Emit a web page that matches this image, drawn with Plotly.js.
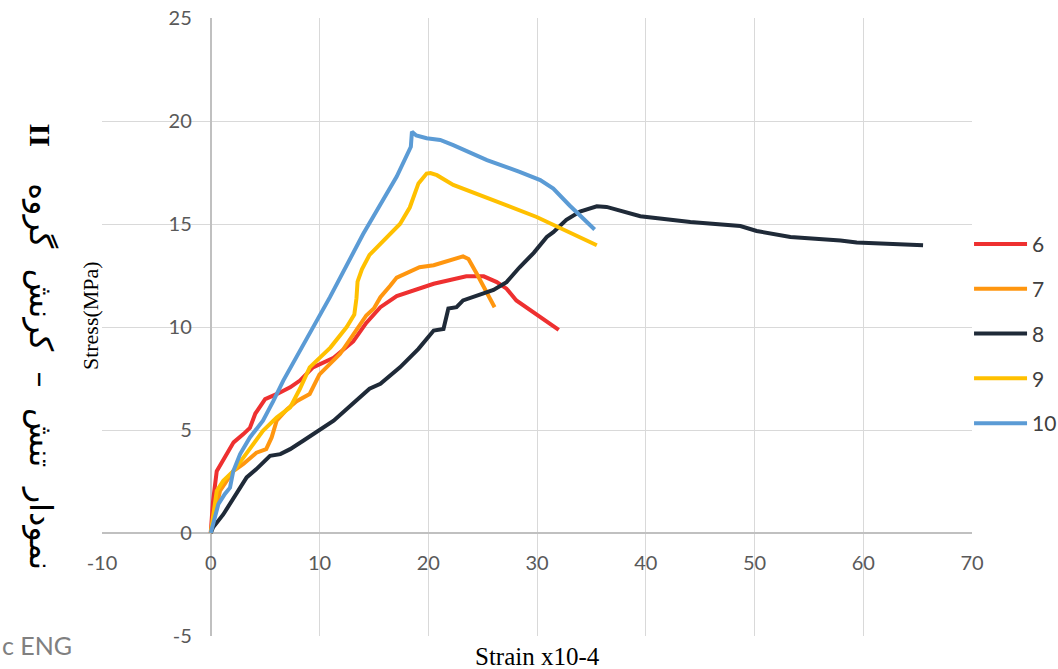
<!DOCTYPE html>
<html>
<head>
<meta charset="utf-8">
<script src="https://cdn.plot.ly/plotly-3.0.1.min.js"></script>
<style>html,body{margin:0;padding:0;background:#fff;}#chart{width:1058px;height:669px;}</style>
</head>
<body>
<div id="chart"></div>
<script>
// Series names
const seriesNames = ['6', '7', '8', '9', '10'];
const seriesColors = ['#ee3030', '#ff960f', '#1f2a38', '#ffc000', '#5b9bd5'];

// Series 6
const s6x = [0, 0.2, 0.55, 1.0, 1.5, 2.1, 3.0, 3.6, 4.1, 5.0, 6.1, 7.3, 8.2, 9.4, 11.3, 13.1, 14.3, 15.6, 17.1, 19.2, 20.5, 23.5, 25.1, 26.3, 27.2, 28.1, 29.7, 32.0];
const s6y = [0, 1.5, 3.0, 3.4, 3.9, 4.4, 4.8, 5.1, 5.8, 6.5, 6.75, 7.07, 7.4, 8.04, 8.5, 9.3, 10.2, 10.96, 11.5, 11.86, 12.1, 12.46, 12.46, 12.18, 11.86, 11.29, 10.7, 9.86];

// Series 7
const s7x = [0, 0.85, 2.07, 3.0, 4.2, 5.1, 5.6, 6.06, 7.0, 7.9, 9.1, 10.0, 11.9, 13.1, 14.3, 15.0, 15.6, 16.5, 17.1, 19.2, 20.5, 23.2, 23.7, 24.45, 25.4, 26.1];
const s7y = [0, 2.04, 3.0, 3.35, 3.9, 4.07, 4.64, 5.45, 6.0, 6.4, 6.75, 7.7, 8.7, 9.67, 10.56, 10.9, 11.45, 12.0, 12.4, 12.9, 13.0, 13.43, 13.3, 12.6, 11.7, 10.96];

// Series 8
const s8x = [0, 0.2, 1.15, 2.07, 3.3, 4.2, 5.45, 6.4, 7.3, 8.5, 10.05, 11.3, 14.6, 15.6, 17.4, 19.1, 20.5, 21.4, 21.85, 22.6, 23.2, 24.45, 26.0, 27.2, 28.4, 29.7, 30.9, 31.5, 32.7, 33.95, 35.5, 36.4, 37.9, 39.5, 44.1, 48.7, 50.2, 53.3, 57.9, 59.4, 65.5];
const s8y = [0, 0.26, 0.9, 1.7, 2.7, 3.1, 3.75, 3.83, 4.07, 4.48, 5.0, 5.45, 7.0, 7.24, 8.04, 8.94, 9.83, 9.9, 10.9, 10.96, 11.29, 11.53, 11.8, 12.18, 12.9, 13.6, 14.37, 14.6, 15.2, 15.6, 15.86, 15.83, 15.6, 15.38, 15.1, 14.9, 14.66, 14.37, 14.2, 14.1, 13.97];

// Series 9
const s9x = [0, 0.55, 1.15, 2.07, 3.0, 3.9, 4.8, 6.06, 7.3, 8.2, 9.1, 11.0, 12.5, 13.2, 13.4, 13.5, 13.9, 14.6, 16.2, 17.4, 18.3, 19.1, 19.85, 20.2, 20.8, 22.3, 29.97, 35.5];
const s9y = [0, 2.04, 2.53, 3.0, 3.66, 4.3, 4.96, 5.6, 6.1, 7.0, 8.04, 9.0, 10.0, 10.6, 11.4, 12.2, 12.8, 13.5, 14.37, 15.0, 15.8, 16.97, 17.45, 17.47, 17.37, 16.9, 15.34, 13.97];

// Series 10
const s10x = [0, 0.4, 0.7, 1.3, 1.77, 2.07, 2.7, 3.6, 4.8, 5.75, 6.67, 10.96, 14.0, 17.1, 18.3, 18.4, 18.5, 18.9, 19.85, 21.1, 22.3, 25.4, 28.4, 30.3, 31.5, 33.0, 35.3];
const s10y = [0, 0.74, 1.4, 1.9, 2.2, 3.0, 3.83, 4.64, 5.45, 6.4, 7.4, 11.45, 14.5, 17.3, 18.6, 18.75, 19.48, 19.3, 19.16, 19.08, 18.83, 18.1, 17.53, 17.13, 16.72, 15.9, 14.73];

const xs = [s6x, s7x, s8x, s9x, s10x];
const ys = [s6y, s7y, s8y, s9y, s10y];

// Axis ticks
const xTicks = [-10, 0, 10, 20, 30, 40, 50, 60, 70];
const xTickText = ['-10', '0', '10', '20', '30', '40', '50', '60', '70'];
const yTicks = [-5, 0, 5, 10, 15, 20, 25];
const yTickText = ['-5', '0', '5', '10', '15', '20', '25'];

const traces = seriesNames.map((n, i) => ({
  type: 'scatter', mode: 'lines', name: n, x: xs[i], y: ys[i],
  legendgroup: 'g' + i,
  line: {color: seriesColors[i], width: 4}
}));

const tickFont = {family: 'Lato, Open Sans, sans-serif', size: 20, color: '#595959'};

const layout = {
  width: 1058, height: 669,
  margin: {l: 102, r: 86, t: 18, b: 33, autoexpand: false},
  paper_bgcolor: '#ffffff', plot_bgcolor: '#ffffff',
  showlegend: true,
  legend: {x: 0.9966, xanchor: 'left', y: 0.667, yanchor: 'top', bgcolor: 'rgba(0,0,0,0)',
    font: {family: 'Lato, Open Sans, sans-serif', size: 21, color: '#404040'},
    tracegroupgap: 14.5, itemwidth: 53},
  xaxis: {range: [-10, 70], tickvals: xTicks, ticktext: xTickText, showgrid: true, gridcolor: '#d9d9d9', gridwidth: 1.3,
    zeroline: true, zerolinecolor: '#c0c0c0', zerolinewidth: 1.5, showline: false,
    anchor: 'free', position: 1/6, ticks: 'outside', ticklen: 12, tickcolor: 'rgba(0,0,0,0)',
    tickfont: tickFont},
  yaxis: {range: [-5, 25], tickvals: yTicks, ticktext: yTickText, showgrid: true, gridcolor: '#d9d9d9', gridwidth: 1.3,
    zeroline: true, zerolinecolor: '#c0c0c0', zerolinewidth: 1.5, showline: false,
    anchor: 'free', position: 0.125, ticks: 'outside', ticklen: 15, tickcolor: 'rgba(0,0,0,0)',
    tickfont: tickFont},
  annotations: [
    {xref: 'paper', yref: 'paper', x: -0.014, y: 0.519, text: 'Stress(MPa)', textangle: -90,
     showarrow: false, xanchor: 'center', yanchor: 'middle',
     font: {family: 'Liberation Serif, Times New Roman, serif', size: 22, color: '#000'}},
    {xref: 'paper', yref: 'paper', x: 0.5, y: -0.033, text: 'Strain x10-4',
     showarrow: false, xanchor: 'center', yanchor: 'middle',
     font: {family: 'Liberation Serif, Times New Roman, serif', size: 25, color: '#000'}},
    {xref: 'paper', yref: 'paper', x: -0.071, y: 0.42,
     text: '\u202Bنمودار\u00A0\u00A0تنش\u00A0\u00A0–\u00A0\u00A0کرنش\u00A0\u00A0گروه\u202C', textangle: 90,
     showarrow: false, xanchor: 'center', yanchor: 'middle',
     font: {family: 'DejaVu Sans, Noto Sans, sans-serif', size: 32, color: '#000'}},
    {xref: 'paper', yref: 'paper', x: -0.071, y: 0.811, text: '<b>II</b>', textangle: 90,
     showarrow: false, xanchor: 'center', yanchor: 'middle',
     font: {family: 'Liberation Serif, Times New Roman, serif', size: 30, color: '#000'}},
    {xref: 'paper', yref: 'paper', x: -0.1172, y: -0.015, text: 'c ENG',
     showarrow: false, xanchor: 'left', yanchor: 'middle',
     font: {family: 'Lato, Open Sans, sans-serif', size: 25, color: '#808080'}}
  ]
};

Plotly.newPlot('chart', traces, layout, {displayModeBar: false, responsive: false});
</script>
</body>
</html>
